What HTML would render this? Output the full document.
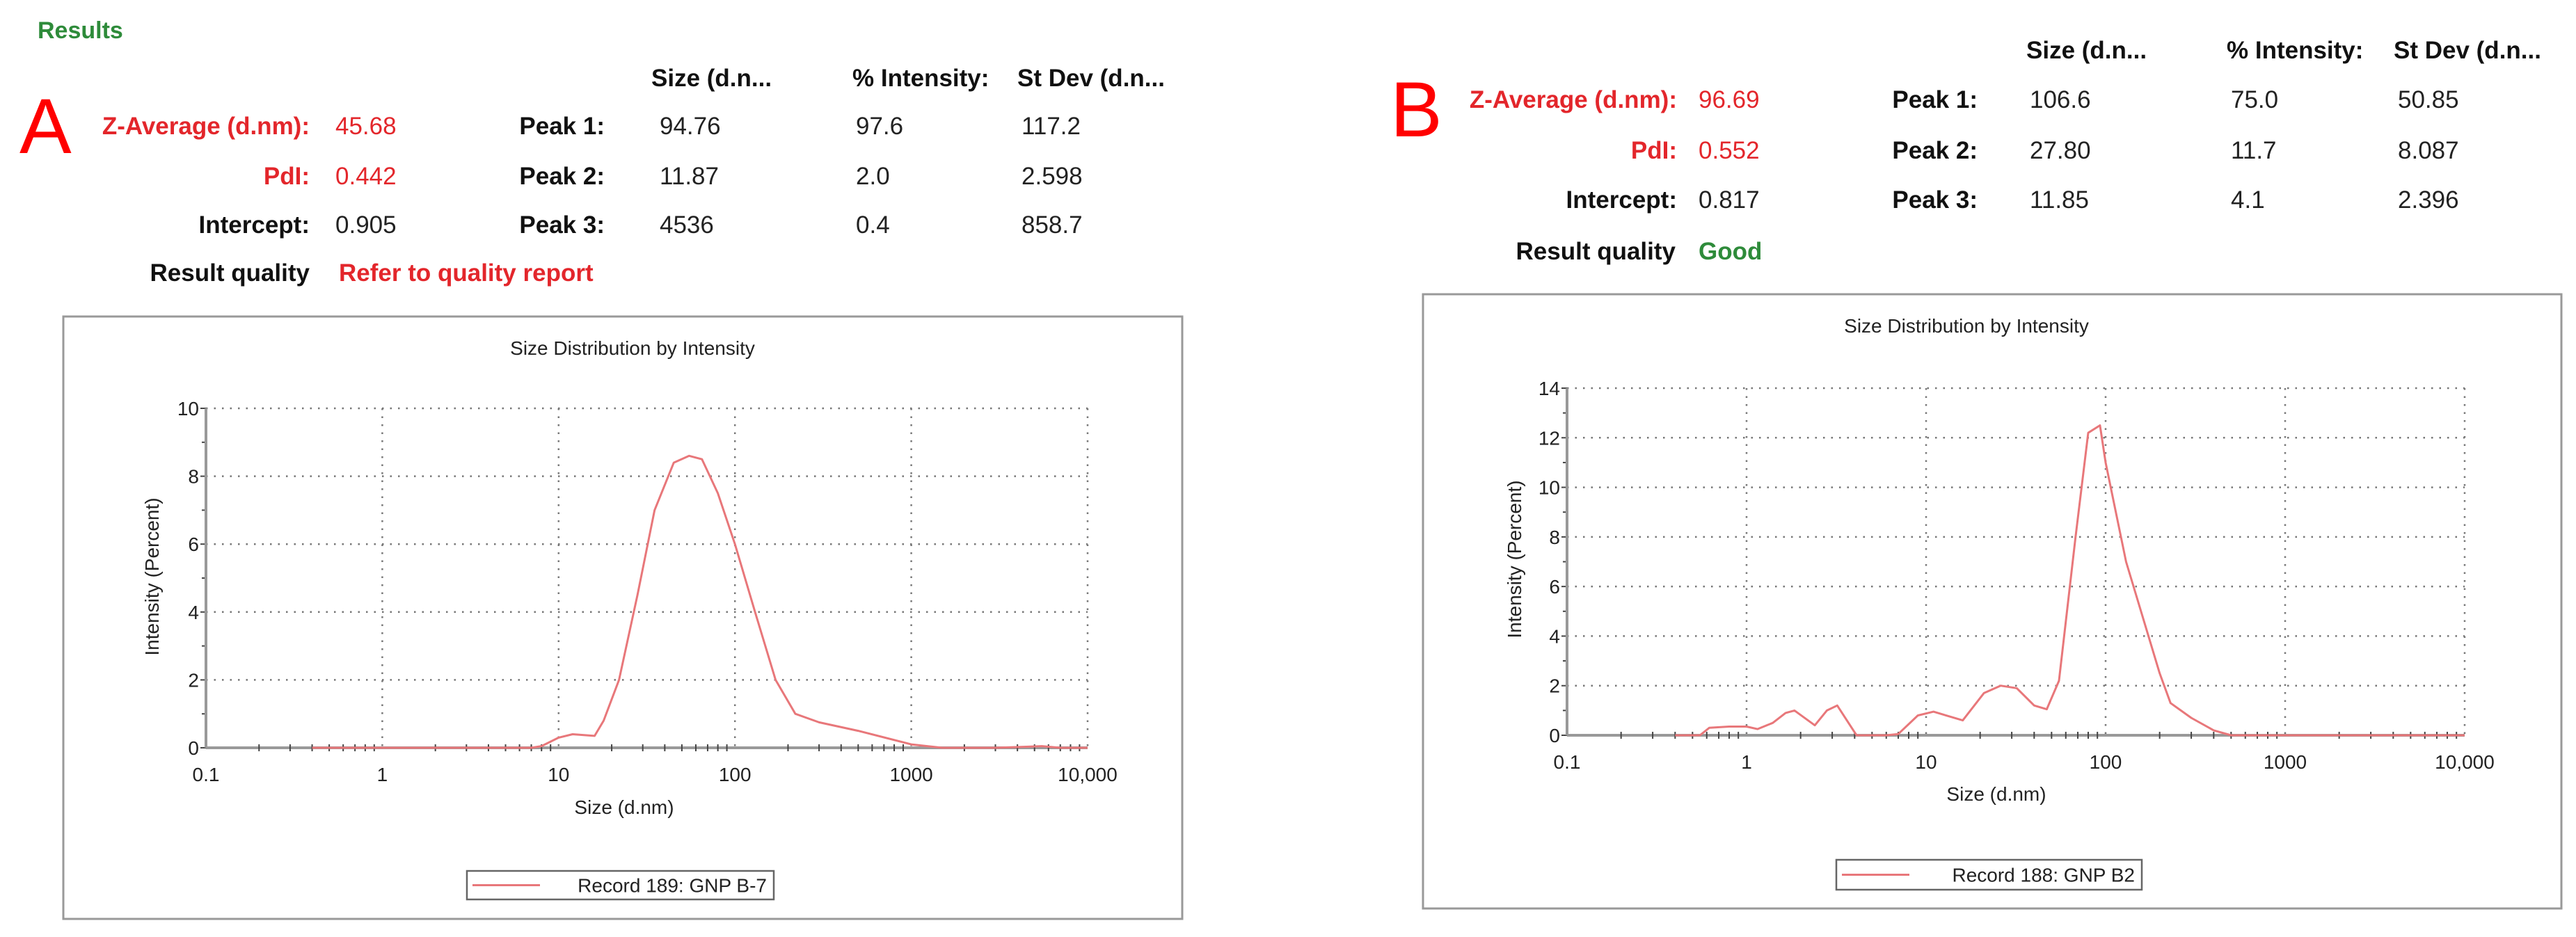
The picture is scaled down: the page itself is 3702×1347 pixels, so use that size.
<!DOCTYPE html>
<html><head><meta charset="utf-8">
<style>
html,body{margin:0;padding:0;background:#fff;}
svg{display:block;}
text{font-family:"Liberation Sans",Arial,sans-serif;}
.h{font-weight:bold;font-size:35px;fill:#111;}
.r{font-size:35px;fill:#222;}
.red{fill:#e3262b;}
.grn{fill:#2e8b3a;}
.t{font-size:28px;fill:#222;}
</style></head>
<body>
<svg id="root" width="3702" height="1347" viewBox="0 0 3702 1347" xmlns="http://www.w3.org/2000/svg">
<rect width="3702" height="1347" fill="#fff"/>
<g>
<text x="54" y="55" class="h grn" style="font-size:34px">Results</text>
<text x="28" y="220" style="font-size:112px;fill:#f00">A</text>
<text x="936" y="124" class="h">Size (d.n...</text>
<text x="1225" y="124" class="h">% Intensity:</text>
<text x="1462" y="124" class="h">St Dev (d.n...</text>
<text x="445" y="193" text-anchor="end" class="h red">Z-Average (d.nm):</text>
<text x="482" y="193" class="r red">45.68</text>
<text x="445" y="265" text-anchor="end" class="h red">PdI:</text>
<text x="482" y="265" class="r red">0.442</text>
<text x="445" y="335" text-anchor="end" class="h">Intercept:</text>
<text x="482" y="335" class="r">0.905</text>
<text x="445" y="404" text-anchor="end" class="h">Result quality</text>
<text x="487" y="404" class="h red">Refer to quality report</text>
<text x="869" y="193" text-anchor="end" class="h">Peak 1:</text>
<text x="869" y="265" text-anchor="end" class="h">Peak 2:</text>
<text x="869" y="335" text-anchor="end" class="h">Peak 3:</text>
<text x="948" y="193" class="r">94.76</text>
<text x="948" y="265" class="r">11.87</text>
<text x="948" y="335" class="r">4536</text>
<text x="1230" y="193" class="r">97.6</text>
<text x="1230" y="265" class="r">2.0</text>
<text x="1230" y="335" class="r">0.4</text>
<text x="1468" y="193" class="r">117.2</text>
<text x="1468" y="265" class="r">2.598</text>
<text x="1468" y="335" class="r">858.7</text>
</g>
<g>
<text x="1998" y="196" style="font-size:112px;fill:#f00">B</text>
<text x="2912" y="84" class="h">Size (d.n...</text>
<text x="3200" y="84" class="h">% Intensity:</text>
<text x="3440" y="84" class="h">St Dev (d.n...</text>
<text x="2410" y="155" text-anchor="end" class="h red">Z-Average (d.nm):</text>
<text x="2441" y="155" class="r red">96.69</text>
<text x="2410" y="228" text-anchor="end" class="h red">PdI:</text>
<text x="2441" y="228" class="r red">0.552</text>
<text x="2410" y="299" text-anchor="end" class="h">Intercept:</text>
<text x="2441" y="299" class="r">0.817</text>
<text x="2408" y="373" text-anchor="end" class="h">Result quality</text>
<text x="2441" y="373" class="h grn">Good</text>
<text x="2842" y="155" text-anchor="end" class="h">Peak 1:</text>
<text x="2842" y="228" text-anchor="end" class="h">Peak 2:</text>
<text x="2842" y="299" text-anchor="end" class="h">Peak 3:</text>
<text x="2917" y="155" class="r">106.6</text>
<text x="2917" y="228" class="r">27.80</text>
<text x="2917" y="299" class="r">11.85</text>
<text x="3206" y="155" class="r">75.0</text>
<text x="3206" y="228" class="r">11.7</text>
<text x="3206" y="299" class="r">4.1</text>
<text x="3446" y="155" class="r">50.85</text>
<text x="3446" y="228" class="r">8.087</text>
<text x="3446" y="299" class="r">2.396</text>
</g>
<g id="chartA"></g>
<g id="chartB"></g>
</svg>
<script>
const xTickValues = [0.1, 1, 10, 100, 1000, 10000];
const xTickLabels = ["0.1", "1", "10", "100", "1000", "10,000"];
const yTicksA = [0, 2, 4, 6, 8, 10];
const yTicksB = [0, 2, 4, 6, 8, 10, 12, 14];
const sizesA = [0.4,1,2,4,6,7,8,10,12,16,18,22,28,35,45,55,65,80,100,130,170,220,300,500,1000,1500,3000,4500,5500,7000,10000];
const intensA = [0,0,0,0,0,0,0.05,0.3,0.4,0.35,0.8,2,4.5,7,8.4,8.6,8.5,7.5,6,4,2,1,0.75,0.5,0.1,0,0,0.03,0.05,0,0];
const sizesB = [0.4,0.55,0.62,0.8,1.0,1.15,1.4,1.65,1.85,2.4,2.8,3.2,4.1,6,7,9,11,16,21,26,32,40,47,55,68,80,93,100,130,200,230,300,400,500,1000,10000];
const intensB = [0,0,0.3,0.35,0.35,0.25,0.5,0.9,1.0,0.4,1.0,1.2,0,0,0.05,0.8,0.95,0.6,1.7,2.0,1.9,1.2,1.05,2.2,8,12.2,12.5,11,7,2.5,1.3,0.7,0.2,0,0,0];

const NS = "http://www.w3.org/2000/svg";
function mk(tag, attrs, parent){const e=document.createElementNS(NS,tag);for(const k in attrs)e.setAttribute(k,attrs[k]);parent.appendChild(e);return e;}

function drawChart(g, c, sizes, vals, yTicks, legendText){
  const xs = v => c.x0 + (Math.log10(v) + 1) / 5 * (c.x1 - c.x0);
  const ys = v => c.y0 - v / c.ymax * (c.y0 - c.yT);
  const frame = mk('rect',{x:c.bx,y:c.by,width:c.bw,height:c.bh,fill:'#fff',stroke:'#999','stroke-width':3},g);
  
  
  const title = mk('text',{x:c.titleX,y:c.titleY,'text-anchor':'middle','class':'t'},g);
  title.textContent='Size Distribution by Intensity';
  
  
  xTickValues.forEach((v,i)=>{
    if(i>0){const l=mk('line',{x1:xs(v),x2:xs(v),y1:c.yT,y2:c.y0,stroke:'#777','stroke-width':2.5,'stroke-dasharray':'2.5 9'},g);
    
    }
    const t=mk('text',{x:xs(v),y:c.y0+c.lblOff,'text-anchor':'middle','class':'t'},g);
    t.textContent=xTickLabels[i];
    
    
  });
  yTicks.forEach(v=>{
    if(v>0){const l=mk('line',{x1:c.x0,x2:c.x1,y1:ys(v),y2:ys(v),stroke:'#777','stroke-width':2.5,'stroke-dasharray':'2.5 9'},g);
    
    }
    const t=mk('text',{x:c.x0-10,y:ys(v)+10,'text-anchor':'end','class':'t'},g);
    t.textContent=String(v);
    
    
    const tk=mk('line',{x1:c.x0-8,x2:c.x0,y1:ys(v),y2:ys(v),stroke:'#444','stroke-width':2},g);
    
    
    if(v<c.ymax){const m=mk('line',{x1:c.x0-6,x2:c.x0,y1:ys(v+1),y2:ys(v+1),stroke:'#444','stroke-width':2},g);
    
    }
  });
  const ax=mk('line',{x1:c.x0,x2:c.x1,y1:c.y0,y2:c.y0,stroke:'#999','stroke-width':4},g);
  
  
  const ay=mk('line',{x1:c.x0,x2:c.x0,y1:c.yT,y2:c.y0,stroke:'#999','stroke-width':4},g);
  
  
  for(let d=-1; d<4; d++){ for(let k=2;k<=9;k++){
    const v=k*Math.pow(10,d);
    const m=mk('line',{x1:xs(v),x2:xs(v),y1:c.y0-5,y2:c.y0+5,stroke:'#444','stroke-width':2},g);
    
    
  }}
  const xt=mk('text',{x:c.xTitleX,y:c.xTitleY,'text-anchor':'middle','class':'t'},g);
  xt.textContent='Size (d.nm)';
  
  
  const yt=mk('text',{x:0,y:0,transform:`translate(${c.yTitleX},${c.yTitleY}) rotate(-90)`,'text-anchor':'middle','class':'t'},g);
  yt.textContent='Intensity (Percent)';
  
  
  const d = sizes.map((s,i)=>(i?'L':'M')+xs(s).toFixed(1)+','+ys(vals[i]).toFixed(1)).join(' ');
  const p=mk('path',{d:d,fill:'none',stroke:'#e8777a','stroke-width':3,'stroke-linejoin':'round'},g);
  
  
  const lg=mk('g',{},g);
  
  
  mk('rect',{x:c.lx,y:c.ly,width:c.lw,height:c.lh,fill:'#fff',stroke:'#666','stroke-width':2.5},lg);
  mk('line',{x1:c.lx+8,x2:c.lx+105,y1:c.ly+c.lh/2,y2:c.ly+c.lh/2,stroke:'#e8777a','stroke-width':3},lg);
  const lt=mk('text',{x:c.lx+c.lw-10,y:c.ly+c.lh/2+10,'text-anchor':'end','class':'t'},lg);
  lt.textContent=legendText;
  
  
}
drawChart(document.getElementById('chartA'),
  {bx:91,by:455,bw:1608,bh:866,x0:296,x1:1563,yT:587,y0:1075,ymax:10,titleX:909,titleY:510,lblOff:48,xTitleX:897,xTitleY:1170,yTitleX:228,yTitleY:829,lx:671,ly:1252,lw:441,lh:41},
  sizesA,intensA,yTicksA,'Record 189: GNP B-7');
drawChart(document.getElementById('chartB'),
  {bx:2045,by:423,bw:1636,bh:883,x0:2252,x1:3542,yT:558,y0:1057,ymax:14,titleX:2826,titleY:478,lblOff:48,xTitleX:2869,xTitleY:1151,yTitleX:2186,yTitleY:804,lx:2639,ly:1236,lw:439,lh:43},
  sizesB,intensB,yTicksB,'Record 188: GNP B2');
</script>
</body></html>
